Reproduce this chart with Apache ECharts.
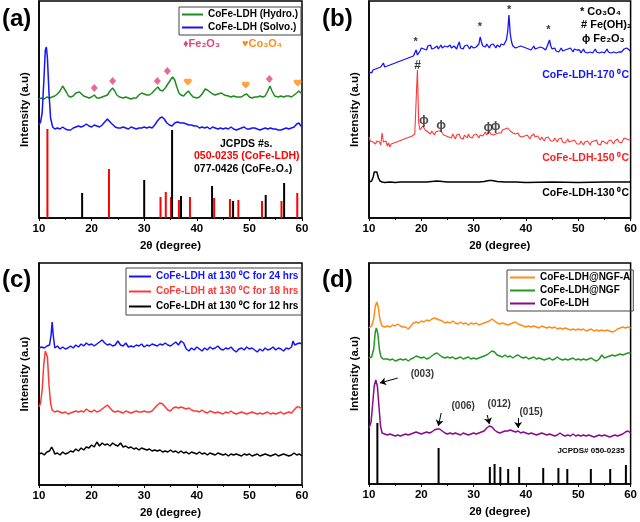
<!DOCTYPE html>
<html><head><meta charset="utf-8">
<script src="https://cdn.jsdelivr.net/npm/echarts@6/dist/echarts.min.js"></script>
<style>html,body{margin:0;padding:0;background:#fff}#c{width:640px;height:522px}</style>
</head><body><div id="c"></div>
<script>
// ---------- DATA ----------
const xTicks = [10, 20, 30, 40, 50, 60];
// Panel (a)
const aHydro = [[10,119],[10.5,120],[11,119],[11.5,121],[12,120],[12.5,121],[13,122],[13.5,124],[14,127],[14.5,132],[14.8,131],[15.2,126],[15.6,122],[16,121],[16.5,122],[17,125],[17.3,127],[17.7,126],[18,124],[18.5,122],[19,121],[19.5,120],[20,121],[20.5,123],[21,120],[21.5,120],[22,121],[22.5,122],[23,123],[23.5,127],[24,130],[24.4,127],[24.8,123],[25.3,121],[26,120],[26.5,121],[27,120],[27.5,119],[28,120],[28.5,120],[29,123],[29.5,125],[30,124],[30.5,123],[31,123],[31.5,125],[32,128],[32.6,131],[33,128],[33.5,127],[34,130],[34.5,134],[35,138],[35.4,141],[35.8,138],[36.2,131],[36.6,125],[37,123],[37.5,122],[38,125],[38.4,127],[38.8,124],[39.3,121],[40,120],[40.5,121],[41,124],[41.6,129],[42,128],[42.5,126],[43,124],[43.5,123],[44,124],[44.7,125],[45.2,123],[46,122],[46.5,121],[47,122],[47.5,121],[48,121],[48.5,121],[49,123],[49.5,124],[50,121],[50.5,120],[51,121],[51.5,121],[52,122],[52.5,121],[53,122],[53.5,127],[53.9,132],[54.3,127],[54.8,122],[55.5,121],[56,122],[56.5,121],[57,122],[57.5,122],[58,121],[58.5,123],[59,125],[59.4,127],[59.8,125],[60,124]];
const aSolvo = [[10,93],[10.3,96],[10.6,105],[10.9,135],[11.2,168],[11.4,171],[11.6,160],[11.9,125],[12.2,100],[12.6,91],[13,89],[13.5,90],[14,89],[14.5,91],[15,89],[15.5,88],[16,88],[16.5,90],[17,91],[17.5,92],[18,91],[18.5,92],[19,94],[19.5,92],[20,91],[20.5,93],[21,92],[21.5,91],[22,93],[22.5,96],[23,99],[23.3,98],[23.7,95],[24,93],[24.5,91],[25,90],[25.5,90],[26,91],[26.5,90],[27,89],[27.5,91],[28,90],[28.5,89],[29,90],[29.5,90],[30,91],[30.5,90],[31,91],[31.5,90],[32,93],[32.5,97],[33,100],[33.4,101],[33.8,99],[34.3,95],[34.8,93],[35.3,92],[35.8,95],[36.3,96],[37,95],[37.5,95],[38,94],[38.5,93],[39,93],[39.5,92],[40,92],[40.5,90],[41,91],[41.5,90],[42,91],[42.5,89],[43,91],[43.5,90],[44,89],[44.5,90],[45,89],[45.5,90],[46,89],[46.5,91],[47,89],[47.5,88],[48,89],[48.5,90],[49,91],[49.5,89],[50,89],[50.5,90],[51,90],[51.5,89],[52,88],[52.5,89],[53,90],[53.5,89],[54,90],[54.5,89],[55,89],[55.5,88],[56,88],[56.5,89],[57,90],[57.5,89],[58,90],[58.5,91],[59,94],[59.4,95],[59.8,92],[60,92]];
const aRefLDH = [[11.6,89],[23.3,49],[33.1,21],[34.1,26],[35.1,21],[36.6,18],[38.7,21],[43.3,20],[46.3,19],[47.9,18],[52.4,17],[56.1,17],[59.1,25]];
const aRefCoFe2O4 = [[18.2,25],[30.0,38],[35.3,88],[37.0,22],[42.9,32],[46.9,17],[53.1,23],[56.6,35]];
const aFe2O3Marks = [[20.5,130],[24.0,137],[32.5,137],[34.4,147],[53.8,139]];
const aCo3O4Marks = [[38.3,136],[49.3,133],[59.2,135]];
// Panel (b)
const bX0 = 10, bDX = 0.25;
const b170 = [146,147,145,148,147,149,148,150,149,151,152,155,151,150,152,151,153,152,154,153,
155,154,156,158,157,156,158,157,159,161,160,158,161,160,162,161,168,163,162,167,
170,172,169,171,168,172,170,173,169,171,170,168,172,169,171,173,170,169,172,170,
171,169,173,170,168,172,171,169,173,176,170,171,169,172,170,173,171,169,172,171,
170,172,171,173,174,181,176,172,173,171,174,172,170,173,171,174,172,170,173,172,
171,174,172,173,175,178,186,203,184,176,172,173,170,172,171,169,172,170,171,169,
170,172,169,171,168,170,172,169,171,170,168,171,169,170,172,168,171,170,178,172,
169,168,170,167,169,166,168,170,167,169,168,166,169,167,170,168,166,169,167,168,
166,168,165,167,169,166,168,165,167,166,168,165,167,169,166,168,165,167,166,168,
165,167,169,166,168,165,167,166,168,165,167,166,168,166,167,169,168,170,171,168,166];
const b150 = [81,77,79,76,78,74,77,75,76,73,85,76,74,77,72,75,71,74,72,75,
73,76,74,77,75,78,76,79,77,80,78,81,79,82,80,84,85,148,95,88,
89,92,91,88,90,86,88,84,87,85,83,86,84,87,85,87,86,83,85,82,
84,81,83,80,84,82,79,83,81,84,80,82,79,83,81,80,84,81,82,80,
83,81,84,82,80,83,85,82,84,86,83,85,87,84,86,83,85,84,86,85,
87,85,88,86,89,91,90,88,87,89,85,86,84,83,85,82,84,81,83,82,
80,83,81,79,82,80,84,81,79,82,80,78,81,79,77,80,78,81,79,77,
79,77,80,78,76,79,77,80,76,78,75,77,79,76,74,77,75,78,76,74,
76,74,77,75,73,76,74,77,75,73,76,74,77,75,78,74,76,73,77,75,
76,78,74,77,75,78,76,74,77,75,79,76,78,75,77,80,82,79,81,78,78];
const b130 = [[10,36],[10.5,37],[10.8,41],[11.0,46],[11.25,48],[11.5,46],[11.8,40],[12.1,37],[12.5,36],[13,35.5],[14,36],[15,35.5],[16,36],[17,36],[18,36],[19,36],[20,36],[21,36],[22,36.5],[23,37],[24,36.5],[25,36],[26,36],[27,36],[28,36],[29,36],[30,36],[31,36],[32,36.5],[33,37.5],[33.5,37.5],[34.5,36.5],[36,36],[38,36],[40,35.5],[45,36],[50,35.5],[55,36],[60,36]];
const bStars = [[18.9,176],[31.2,191],[36.8,208],[44.3,188]];
const bHash = [[19.3,152]];
const bPhi = [[20.5,98],[23.8,93],[32.8,91],[34.2,92]];
// Panel (c)
const c24 = [[10,137],[10.5,138],[11,137],[11.5,139],[12,140],[12.3,150],[12.5,163],[12.7,150],[13,137],[13.5,139],[14,136],[14.5,138],[15,136],[15.5,137],[16,139],[16.5,137],[17,140],[17.5,138],[18,141],[18.5,139],[19,142],[19.5,140],[20,141],[20.5,139],[21,141],[21.5,143],[22,145],[22.5,142],[23,140],[23.5,141],[24,139],[24.5,140],[25,144],[25.5,140],[26,139],[26.5,142],[27,138],[27.5,139],[28,138],[28.5,140],[29,139],[29.5,141],[30,138],[30.5,140],[31,139],[31.5,141],[32,140],[32.5,139],[33,141],[33.5,140],[34,142],[34.5,140],[35,139],[35.5,141],[36,143],[36.5,140],[37,144],[37.5,142],[38,136],[38.5,134],[39,137],[39.5,135],[40,138],[40.5,136],[41,134],[41.5,137],[42,135],[42.5,138],[43,136],[43.5,137],[44,139],[44.5,136],[45,135],[45.5,137],[46,136],[46.5,138],[47,135],[47.5,133],[48,136],[48.5,137],[49,135],[49.5,138],[50,136],[50.5,137],[51,135],[51.5,133],[52,136],[52.5,134],[53,137],[53.5,135],[54,136],[54.5,138],[55,135],[55.5,137],[56,136],[56.5,134],[57,137],[57.5,136],[58,138],[58.3,144],[58.6,140],[59,141],[59.5,142],[60,141]];
const c18 = [[10,78],[10.3,82],[10.6,95],[10.9,120],[11.2,134],[11.4,135],[11.6,128],[11.9,100],[12.2,82],[12.5,75],[13,73],[13.5,74],[14,73],[14.5,72],[15,73],[15.5,71],[16,72],[16.5,73],[17,74],[17.5,73],[18,74],[18.5,73],[19,76],[19.5,74],[20,73],[20.5,75],[21,73],[21.5,74],[22,76],[22.5,78],[23,80],[23.5,77],[24,74],[24.5,73],[25,74],[25.5,73],[26,72],[26.5,74],[27,73],[27.5,72],[28,73],[28.5,74],[29,73],[29.5,73],[30,74],[30.5,73],[31,73],[31.5,74],[32,77],[32.5,80],[33,82],[33.5,81],[34,78],[34.5,75],[35,74],[35.5,77],[36,78],[36.5,77],[37,78],[37.5,77],[38,76],[38.5,77],[39,75],[39.5,74],[40,74],[40.5,73],[41,75],[41.5,73],[42,72],[42.5,74],[43,73],[43.5,72],[44,73],[44.5,72],[45,71],[45.5,73],[46,72],[46.5,74],[47,72],[47.5,71],[48,72],[48.5,73],[49,72],[49.5,71],[50,72],[50.5,73],[51,72],[51.5,71],[52,72],[52.5,71],[53,72],[53.5,73],[54,71],[54.5,72],[55,71],[55.5,72],[56,73],[56.5,71],[57,72],[57.5,73],[58,72],[58.5,75],[59,78],[59.5,78],[60,76]];
const c12 = [[10,31],[10.5,32],[11,30],[11.5,33],[12,34],[12.4,38],[12.8,34],[13,31],[13.5,32],[14,30],[14.5,33],[15,31],[15.5,32],[16,34],[16.5,33],[17,36],[17.5,34],[18,37],[18.5,35],[19,38],[19.5,37],[20,40],[20.5,38],[21,43],[21.5,39],[22,42],[22.5,40],[23,41],[23.5,39],[24,42],[24.5,40],[25,39],[25.5,42],[26,38],[26.5,39],[27,37],[27.5,38],[28,36],[28.5,37],[29,35],[29.5,37],[30,36],[30.5,35],[31,36],[31.5,34],[32,35],[32.5,34],[33,35],[33.5,33],[34,34],[34.5,33],[35,35],[35.5,33],[36,34],[36.5,32],[37,34],[37.5,32],[38,33],[38.5,31],[39,33],[39.5,32],[40,31],[40.5,33],[41,31],[41.5,32],[42,30],[42.5,32],[43,31],[43.5,30],[44,32],[44.5,31],[45,30],[45.5,31],[46,29],[46.5,31],[47,30],[47.5,31],[48,30],[48.5,29],[49,31],[49.5,30],[50,31],[50.5,29],[51,30],[51.5,31],[52,29],[52.5,30],[53,31],[53.5,30],[54,29],[54.5,30],[55,31],[55.5,29],[56,30],[56.5,31],[57,30],[57.5,29],[58,30],[58.5,32],[59,30],[59.5,31],[60,29]];
// Panel (d)
const dNGFA = [[10,156],[10.5,158],[10.9,165],[11.2,178],[11.5,182],[11.8,176],[12.1,164],[12.5,158],[13,157],[13.5,158],[14,157],[14.5,159],[15,158],[15.5,160],[16,158],[16.5,157],[17,157],[17.5,155],[18,158],[18.5,161],[19,162],[19.5,161],[20,163],[20.5,162],[21,164],[21.5,163],[22,165],[22.5,166],[23,165],[23.5,164],[24,163],[24.5,161],[25,162],[25.5,161],[26,163],[26.5,161],[27,160],[27.5,162],[28,160],[28.5,161],[29,159],[29.5,161],[30,160],[30.5,161],[31,159],[31.5,160],[32,161],[32.5,162],[33,163],[33.5,165],[34,163],[34.5,161],[35,160],[35.5,161],[36,160],[36.5,159],[37,160],[37.5,161],[38,162],[38.5,160],[39,159],[39.5,158],[40,157],[40.5,158],[41,157],[41.5,158],[42,157],[42.5,156],[43,158],[43.5,157],[44,156],[44.5,157],[45,156],[45.5,157],[46,155],[46.5,156],[47,155],[47.5,156],[48,155],[48.5,154],[49,155],[49.5,154],[50,155],[50.5,154],[51,155],[51.5,153],[52,154],[52.5,155],[53,153],[53.5,154],[54,153],[54.5,154],[55,153],[55.5,154],[56,153],[56.5,152],[57,153],[57.5,155],[58,156],[58.5,157],[59,156],[59.5,157],[60,156]];
const dNGF = [[10,126],[10.5,127],[10.9,135],[11.2,152],[11.4,156],[11.7,150],[12.0,134],[12.3,127],[12.7,125],[13,124],[13.5,125],[14,124],[14.5,125],[15,123],[15.5,124],[16,125],[16.5,124],[17,125],[17.5,123],[18,125],[18.5,126],[19,128],[19.5,127],[20,126],[20.5,127],[21,125],[21.5,126],[22,128],[22.5,130],[23,131],[23.5,129],[24,127],[24.5,126],[25,127],[25.5,126],[26,127],[26.5,125],[27,126],[27.5,127],[28,125],[28.5,126],[29,127],[29.5,125],[30,126],[30.5,125],[31,126],[31.5,127],[32,128],[32.5,129],[33,131],[33.5,133],[34,132],[34.5,129],[35,128],[35.5,127],[36,129],[36.5,127],[37,128],[37.5,126],[38,128],[38.5,129],[39,127],[39.5,126],[40,127],[40.5,125],[41,126],[41.5,127],[42,125],[42.5,126],[43,125],[43.5,124],[44,125],[44.5,126],[45,124],[45.5,125],[46,127],[46.5,125],[47,124],[47.5,125],[48,124],[48.5,125],[49,126],[49.5,124],[50,125],[50.5,124],[51,125],[51.5,124],[52,125],[52.5,126],[53,124],[53.5,123],[54,125],[54.5,129],[55,126],[55.5,127],[56,128],[56.5,129],[57,128],[57.5,129],[58,130],[58.5,129],[59,130],[59.5,131],[60,131]];
const dLDH = [[10,56],[10.4,62],[10.7,80],[11.0,98],[11.3,104],[11.6,98],[11.9,78],[12.2,58],[12.5,51],[13,50],[13.5,49],[14,50],[14.5,49],[15,48],[15.5,49],[16,48],[16.5,49],[17,50],[17.5,49],[18,50],[18.5,51],[19,52],[19.5,51],[20,50],[20.5,51],[21,52],[21.5,51],[22,52],[22.5,54],[23,55],[23.5,55],[24,53],[24.5,51],[25,50],[25.5,51],[26,50],[26.5,51],[27,50],[27.5,49],[28,51],[28.5,50],[29,49],[29.5,50],[30,51],[30.5,50],[31,51],[31.5,52],[32,53],[32.5,56],[33,58],[33.5,57],[34,54],[34.5,52],[35,51],[35.5,52],[36,53],[36.5,53],[37,54],[37.5,53],[38,52],[38.5,53],[39,51],[39.5,52],[40,51],[40.5,50],[41,51],[41.5,50],[42,49],[42.5,50],[43,51],[43.5,50],[44,49],[44.5,50],[45,49],[45.5,48],[46,49],[46.5,51],[47,49],[47.5,48],[48,49],[48.5,48],[49,50],[49.5,48],[50,49],[50.5,48],[51,49],[51.5,48],[52,49],[52.5,48],[53,47],[53.5,48],[54,49],[54.5,48],[55,49],[55.5,48],[56,47],[56.5,48],[57,49],[57.5,48],[58,49],[58.5,50],[59,52],[59.5,53],[60,51]];
const dRef = [[11.6,61],[23.3,36],[33.1,17],[34.0,20],[35.1,17],[36.6,15],[38.7,17],[43.3,16],[46.2,16],[47.9,15],[52.4,15],[56.1,15],[59.1,19]];
const dPeakLabels = [['(003)',20.2,110],['(006)',28.0,78],['(012)',34.9,80],['(015)',41.0,72]];
const dArrows = [[[15.5,106],[12.1,101]],[[23.8,71],[23.25,58]],[[32.6,69],[33.0,60]],[[38.5,66],[38.5,56]]];

// ---------- CHART ----------
const F = 'Liberation Sans, Arial, sans-serif';
const chart = echarts.init(document.getElementById('c'), null, {renderer: 'canvas'});
const grids = [
  {left: 39, top: 1, width: 263, height: 217},
  {left: 369, top: 1, width: 263, height: 217},
  {left: 39, top: 263, width: 263, height: 222},
  {left: 369, top: 263, width: 263, height: 221}
];
const yMax = [217, 217, 222, 221];
const xAxes = grids.map((g, i) => ({
  type: 'value', gridIndex: i, min: xTicks[0], max: xTicks[xTicks.length - 1], interval: xTicks[1] - xTicks[0],
  name: '2θ (degree)', nameLocation: 'middle', nameGap: 22,
  nameTextStyle: {fontFamily: F, fontWeight: 'bold', fontSize: 11.5, color: '#000'},
  axisLine: {show: true, lineStyle: {color: '#000', width: 1.5}},
  axisTick: {show: true, length: 3, lineStyle: {color: '#000', width: 1}},
  minorTick: {show: true, splitNumber: 2, length: 2, lineStyle: {color: '#000'}},
  axisLabel: {fontFamily: F, fontWeight: 'bold', fontSize: 11.5, color: '#000', margin: 5},
  splitLine: {show: false}
}));
const yAxes = grids.map((g, i) => ({
  type: 'value', gridIndex: i, min: 0, max: yMax[i],
  name: 'Intensity (a.u)', nameLocation: 'middle', nameGap: 8,
  nameTextStyle: {fontFamily: F, fontWeight: 'bold', fontSize: 11.5, color: '#000'},
  axisLine: {show: true, lineStyle: {color: '#000', width: 1.5}},
  axisTick: {show: false}, axisLabel: {show: false}, splitLine: {show: false}
}));
function line(name, data, gi, color, w) {
  return {name, type: 'line', xAxisIndex: gi, yAxisIndex: gi, data, symbol: 'none',
    lineStyle: {color, width: w || 1.5}, itemStyle: {color}, silent: true, z: 3};
}
function sticks(name, data, gi, color) {
  return {name, type: 'bar', xAxisIndex: gi, yAxisIndex: gi, data, barWidth: 2, barGap: '-100%',
    itemStyle: {color}, silent: true, z: 2};
}
function textMarks(data, gi, text, size, color) {
  return {type: 'scatter', xAxisIndex: gi, yAxisIndex: gi, data, symbolSize: 1,
    itemStyle: {color: 'rgba(0,0,0,0)'}, silent: true, z: 5,
    label: {show: true, position: 'inside', formatter: text, color: color || '#000',
      fontFamily: F, fontWeight: 'bold', fontSize: size}};
}
const heart = 'path://M12 21.35l-1.45-1.32C5.4 15.36 2 12.28 2 8.5 2 5.42 4.42 3 7.5 3c1.74 0 3.41.81 4.5 2.09C13.09 3.81 14.76 3 16.5 3 19.58 3 22 5.42 22 8.5c0 3.780-3.4 6.86-8.55 11.54L12 21.35z';

const C = {green: '#1f8c1f', blue: '#1414ff', red: '#ff0000', redB: '#ff3838', orange: '#ff8c1a', greenD: '#229922', purple: '#8b0a8b', pink: '#e0457b'};

const series = [
  sticks('JCPDS 050-0235', aRefLDH, 0, C.red),
  sticks('JCPDS 077-0426', aRefCoFe2O4, 0, '#000'),
  line('CoFe-LDH (Hydro.)', aHydro, 0, C.green),
  line('CoFe-LDH (Solvo.)', aSolvo, 0, C.blue),
  {type: 'scatter', xAxisIndex: 0, yAxisIndex: 0, data: aFe2O3Marks, symbol: 'diamond', symbolSize: [7, 8], itemStyle: {color: C.pink}, silent: true, z: 5},
  {type: 'scatter', xAxisIndex: 0, yAxisIndex: 0, data: aCo3O4Marks, symbol: heart, symbolSize: [8, 7], itemStyle: {color: C.orange}, silent: true, z: 5},
  line('CoFe-LDH-170', b170.map((v, i) => [bX0 + i * bDX, v]), 1, C.blue, 1.3),
  line('CoFe-LDH-150', b150.map((v, i) => [bX0 + i * bDX, v]), 1, C.redB, 1.1),
  line('CoFe-LDH-130', b130, 1, '#000', 1.5),
  textMarks(bStars, 1, '*', 11),
  textMarks(bHash, 1, '#', 12),
  textMarks(bPhi, 1, 'ɸ', 13, '#222'),
  line('CoFe-LDH at 130 ⁰C for 24 hrs', c24, 2, C.blue),
  line('CoFe-LDH at 130 ⁰C for 18 hrs', c18, 2, C.redB),
  line('CoFe-LDH at 130 ⁰C for 12 hrs', c12, 2, '#000'),
  sticks('JCPDS# 050-0235', dRef, 3, '#000'),
  line('CoFe-LDH@NGF-A', dNGFA, 3, C.orange),
  line('CoFe-LDH@NGF', dNGF, 3, C.greenD),
  Object.assign(line('CoFe-LDH', dLDH, 3, C.purple), {
    markLine: {silent: true, symbol: ['none', 'arrow'], symbolSize: 6, animation: false,
      lineStyle: {color: '#000', width: 1, type: 'solid'}, label: {show: false},
      data: dArrows.map(a => [{coord: a[0]}, {coord: a[1]}])}
  }),
  {type: 'scatter', xAxisIndex: 3, yAxisIndex: 3, symbolSize: 1, itemStyle: {color: 'rgba(0,0,0,0)'}, silent: true, z: 5,
    data: dPeakLabels.map(p => ({value: [p[1], p[2]], label: {formatter: p[0]}})),
    label: {show: true, position: 'inside', color: '#000', fontFamily: F, fontWeight: 'bold', fontSize: 10}}
];

const legendBase = {orient: 'vertical', selectedMode: false, borderColor: '#444', borderWidth: 1,
  icon: 'rect', itemHeight: 2, itemGap: 2,
  textStyle: {fontFamily: F, fontWeight: 'bold', fontSize: 10, color: '#000', lineHeight: 11}};
const legends = [
  Object.assign({}, legendBase, {left: 179, top: 7, padding: [2, 3, 2, 3], itemWidth: 21,
    data: ['CoFe-LDH (Hydro.)', 'CoFe-LDH (Solvo.)']}),
  Object.assign({}, legendBase, {left: 126, top: 268, padding: [3, 3, 3, 3], itemWidth: 22, itemGap: 4,
    data: [
      {name: 'CoFe-LDH at 130 ⁰C for 24 hrs', textStyle: {color: C.blue}},
      {name: 'CoFe-LDH at 130 ⁰C for 18 hrs', textStyle: {color: C.redB}},
      {name: 'CoFe-LDH at 130 ⁰C for 12 hrs', textStyle: {color: '#000'}}]}),
  Object.assign({}, legendBase, {left: 507, top: 270, padding: [2, 3, 2, 3], itemWidth: 25,
    data: ['CoFe-LDH@NGF-A', 'CoFe-LDH@NGF', 'CoFe-LDH']})
];

function T(text, x, y, opt) {
  return {type: 'text', x, y, silent: true, z: 10,
    style: Object.assign({text, fill: '#000', font: 'bold 11px ' + F, align: 'left', verticalAlign: 'middle'}, opt || {})};
}
const graphic = [
  T('(a)', 2, 19, {font: 'bold 24px ' + F}),
  T('(b)', 322, 19, {font: 'bold 24px ' + F}),
  T('(c)', 2, 280, {font: 'bold 24px ' + F}),
  T('(d)', 322, 280, {font: 'bold 24px ' + F}),
  T('♦Fe₂O₃', 183, 44, {fill: C.pink, font: 'bold 11px ' + F}),
  T('♥Co₃O₄', 242, 44, {fill: C.orange, font: 'bold 11px ' + F}),
  T('JCPDS #s.', 220, 144, {font: 'bold 10.5px ' + F}),
  T('050-0235 (CoFe-LDH)', 194, 156, {fill: C.red, font: 'bold 10.5px ' + F}),
  T('077-0426 (CoFe₂O₄)', 194, 169, {font: 'bold 10.5px ' + F}),
  T('* Co₃O₄', 580, 12, {font: 'bold 11px ' + F}),
  T('# Fe(OH)₂', 581, 25, {font: 'bold 11px ' + F}),
  T('ɸ Fe₂O₃', 582, 39, {font: 'bold 11px ' + F}),
  T('CoFe-LDH-170 ⁰C', 629, 75, {fill: C.blue, font: 'bold 10.5px ' + F, align: 'right'}),
  T('CoFe-LDH-150 ⁰C', 629, 158, {fill: '#ff2020', font: 'bold 10.5px ' + F, align: 'right'}),
  T('CoFe-LDH-130 ⁰C', 629, 193, {font: 'bold 10.5px ' + F, align: 'right'}),
  T('JCPDS# 050-0235', 591, 451, {font: 'bold 8px ' + F, align: 'center'})
];

chart.setOption({
  animation: false,
  backgroundColor: '#fff',
  grid: grids.map(g => Object.assign({show: true, borderColor: '#000', borderWidth: 1.5, backgroundColor: 'transparent'}, g)),
  xAxis: xAxes, yAxis: yAxes, legend: legends, series, graphic
});
</script></body></html>
